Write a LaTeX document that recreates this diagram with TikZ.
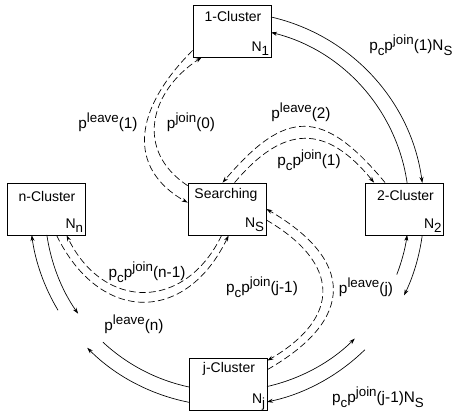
\documentclass[tikz,border=0pt]{standalone}
\usepackage{fontspec}
\setmainfont{Liberation Sans}
\usetikzlibrary{arrows.meta,calc}
\newcommand{\up}[1]{\raisebox{0.42em}{\fontsize{10}{11}\selectfont #1}}
\newcommand{\dn}[1]{\raisebox{-0.3em}{\fontsize{10}{11}\selectfont #1}}
\begin{document}
\begin{tikzpicture}[x=0.75pt,y=-0.75pt,
  box/.style={draw,line width=0.6pt,minimum width=58.5pt,minimum height=39pt,inner sep=0pt},
  ttl/.style={inner sep=0pt,anchor=base,font=\fontsize{10.5}{12}\selectfont},
  cnt/.style={inner sep=0pt,anchor=base east,font=\fontsize{10.5}{12}\selectfont},
  lab/.style={inner sep=0pt,font=\fontsize{11.5}{13}\selectfont},
  flow/.style={line width=0.5pt,-{Stealth[length=4.5pt,width=3pt]}},
  plainln/.style={line width=0.5pt},
  dsh/.style={dash pattern=on 5pt off 2.5pt}]
\useasboundingbox (0,0) rectangle (456,418);
% boxes
\node[box] (c1) at (232,31) {};
\node[box] (S) at (227,209) {};
\node[box] (c2) at (404.5,209) {};
\node[box] (cn) at (46,209) {};
\node[box] (cj) at (228,384) {};
% titles
\node[ttl] (t1) at ($(c1.north)+(1,17)$) {1-Cluster};
\node[ttl] (tS) at ($(S.north)+(-1,16)$) {Searching};
\node[ttl] (t2) at ($(c2.north)+(1,18)$) {2-Cluster};
\node[ttl] (tn) at ($(cn.north)+(1,19)$) {n-Cluster};
\node[ttl] (tj) at ($(cj.north)+(1,15)$) {j-Cluster};
% counts
\node[cnt] (k1) at ($(c1.south east)+(-2,-6)$) {N\dn{1}};
\node[cnt] (kS) at ($(S.south east)+(-2,-8)$) {N\dn{S}};
\node[cnt] (k2) at ($(c2.south east)+(-2,-7)$) {N\dn{2}};
\node[cnt] (kn) at ($(cn.south east)+(-2,-7)$) {N\dn{n}};
\node[cnt] (kj) at ($(cj.south east)+(-2,-7)$) {N\dn{j}};
% solid arcs (centred on Searching)
\draw[flow] ([shift={(-77.1:197)}]S.center) arc[start angle=-77.1,end angle=-7.6,radius=197];
\draw[flow] ([shift={(-8.2:182)}]S.center) arc[start angle=-8.2,end angle=-76.0,radius=182];
\draw[flow] ([shift={(7.6:197)}]S.center) arc[start angle=7.6,end angle=26.0,radius=197];
\draw[flow] ([shift={(21.1:182)}]S.center) arc[start angle=21.1,end angle=8.2,radius=182];
\draw[flow] ([shift={(45.6:197)}]S.center) arc[start angle=45.6,end angle=78.3,radius=197];
\draw[flow] ([shift={(77.3:182)}]S.center) arc[start angle=77.3,end angle=45.4,radius=182];
\draw[flow] ([shift={(101.1:197)}]S.center) arc[start angle=101.1,end angle=135.2,radius=197];
\draw[plainln] ([shift={(133.0:182)}]S.center) arc[start angle=133.0,end angle=102.1,radius=182];
\draw[flow] ([shift={(149.1:197)}]S.center) arc[start angle=149.1,end angle=172.4,radius=197];
\draw[flow] ([shift={(171.8:182)}]S.center) arc[start angle=171.8,end angle=144.9,radius=182];
% dashed curves
\draw[flow,dsh] ($(c1.south west)+(0,-7)$) .. controls (133,110) and (127,168) .. ($(S.north west)+(0,20)$);
\draw[flow,dsh] ($(S.north west)+(0,3)$) .. controls (135,151) and (149,92) .. ($(c1.south west)+(9,0)$);
\draw[flow,dsh] ($(c2.north west)+(20,0)$) .. controls (323,108) and (286,108) .. ($(S.north west)+(35,0)$);
\draw[flow,dsh] ($(S.north west)+(47,0)$) .. controls (284,124) and (326,124) .. ($(c2.north west)+(9,0)$);
\draw[flow,dsh] ($(cj.north east)+(0,12)$) .. controls (356,319) and (354,260) .. (S.east);
\draw[flow,dsh] ($(S.east)+(0,11)$) .. controls (340,263) and (342,317) .. ($(cj.north east)+(0,3)$);
\draw[flow,dsh] ($(cn.south west)+(50,0)$) .. controls (100,324) and (186,324) .. ($(S.south west)+(41,0)$);
\draw[flow,dsh] ($(S.south west)+(34,0)$) .. controls (185,311) and (104,311) .. ($(cn.south west)+(60,0)$);
% labels
\node[lab] (l1) at (108,122) {p\up{leave}(1)};
\node[lab] (j0) at (191,122) {p\up{join}(0)};
\node[lab] (l2) at (301,112) {p\up{leave}(2)};
\node[lab] (j1) at (309,160) {p\dn{c}p\up{join}(1)};
\node[lab,anchor=west] (f1) at (369,45) {p\dn{c}p\up{join}(1)N\dn{S}};
\node[lab] (lj) at (366,287) {p\up{leave}(j)};
\node[lab] (jj) at (262,287) {p\dn{c}p\up{join}(j-1)};
\node[lab] (fj) at (378,397) {p\dn{c}p\up{join}(j-1)N\dn{S}};
\node[lab] (jn) at (147,272) {p\dn{c}p\up{join}(n-1)};
\node[lab] (ln) at (134,324) {p\up{leave}(n)};
\end{tikzpicture}
\end{document}
